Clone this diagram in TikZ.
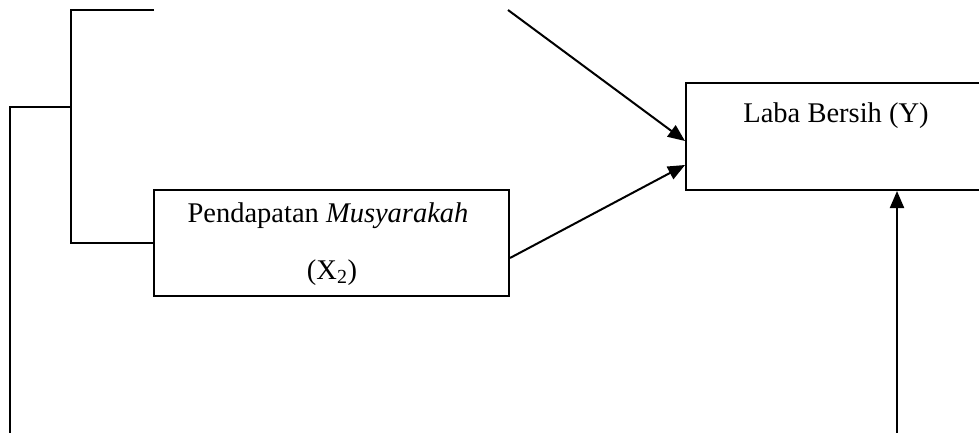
\documentclass[tikz,border=0pt]{standalone}
\usepackage{fontspec}
\setmainfont{Liberation Serif}
\usetikzlibrary{arrows.meta,calc}
\begin{document}
\begin{tikzpicture}[x=1pt,y=-1pt,
  ln/.style={line width=2pt},
  arr/.style={line width=2pt,-{Triangle[length=17pt,width=14pt]}},
  box/.style={draw,line width=2pt,minimum width=#1,inner sep=0pt},
  lbl/.style={font=\fontsize{28.5}{34}\selectfont,inner sep=0pt,anchor=base}]
\useasboundingbox (0,0) rectangle (979,433);
\clip (0,0) rectangle (979,433);
% boxes
\node[box=355pt,minimum height=106pt] (x2) at (331.5,243) {};
\node[box=312pt,minimum height=107pt] (y) at (842,136.5) {};
% labels
\node[lbl] (x2a) at (328,222) {Pendapatan \textit{Musyarakah}};
\node[lbl] (x2b) at (332,279) {(X\textsubscript{2})};
\node[lbl] (ylab) at (836,122) {Laba Bersih (Y)};
% free ends
\coordinate (t1) at (154,10);
\coordinate (t2) at (71,10);
\coordinate (m1) at (71,107);
\coordinate (m2) at (10,107);
\coordinate (b1) at (10,434);
\coordinate (s1) at (508,10);
\coordinate (s2) at (897,434);
% tree lines
\draw[ln] (t1) -- (t2) -- (x2.west -| t2) -- (x2.west);
\draw[ln] (m1) -- (m2) -- (b1);
% arrows
\draw[arr] (s1) -- ($(y.west)+(0,4.5)$);
\draw[arr] ($(x2.east)+(0,15)$) -- ($(y.west)+(0,28.5)$);
\draw[arr] (s2) -- (s2 |- y.south);
\end{tikzpicture}
\end{document}
